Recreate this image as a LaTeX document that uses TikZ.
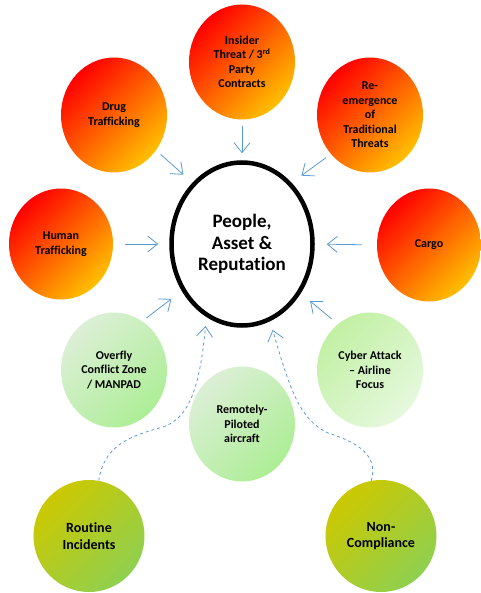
\documentclass[tikz,border=0pt]{standalone}
\usepackage{fontspec}
\setmainfont[Ligatures=NoCommon]{Carlito}
\usetikzlibrary{arrows.meta,shapes.geometric}

\definecolor{arrowblue}{HTML}{5B9BD5}
\definecolor{hotend}{HTML}{FFC000}
\definecolor{hotmid}{HTML}{FF3300}
\definecolor{palegreen}{HTML}{DCEFD6}
\definecolor{softgreen}{HTML}{ADEE96}
\definecolor{limegreen}{HTML}{C2F0A4}
\definecolor{mintgreen}{HTML}{E6F8DE}
\definecolor{olive}{HTML}{CCC800}
\definecolor{grassgreen}{HTML}{8FD050}

\begin{document}
\begin{tikzpicture}[x=1pt,y=-1pt,
  bubble/.style={ellipse,minimum width=106pt,minimum height=115pt,inner sep=0pt,
    align=center,font=\fontsize{12}{14.5}\selectfont\bfseries},
  threat/.style={bubble,top color=red,middle color=hotmid,bottom color=hotend,shading angle=45},
  watch/.style={bubble,top color=palegreen,bottom color=softgreen,shading angle=45},
  watchrev/.style={bubble,top color=limegreen,bottom color=mintgreen,shading angle=45},
  base/.style={bubble,minimum width=111pt,minimum height=112pt,
    font=\fontsize{14}{16.5}\selectfont\bfseries,top color=olive,bottom color=grassgreen,
    shading angle=45},
  hub/.style={ellipse,draw,line width=4.5pt,minimum width=141pt,minimum height=163pt,
    align=center,font=\fontsize{19}{21.5}\selectfont\bfseries},
  feed/.style={draw=arrowblue,line width=0.8pt,-{Straight Barb[length=10pt,width=16pt]}},
  weak/.style={feed,dashed}]

% page frame
\useasboundingbox (0,0) rectangle (480,593);

% centre
\node[hub] (core) at (242,244) {People,\\Asset \&\\Reputation};

% threats in red
\node[threat] (insider) at (242,62) {Insider\\Threat / 3\textsuperscript{rd}\\Party\\Contracts};
\node[threat] (drug) at (114,115) {Drug\\Trafficking};
\node[threat] (reemerge) at (370,115) {Re-\\emergence\\of\\Traditional\\Threats};
\node[threat,minimum width=104pt,minimum height=111pt] (human) at (61,244) {Human\\Trafficking};
\node[threat,minimum width=104pt,minimum height=113pt] (cargo) at (429,245) {Cargo};

% threats in green
\node[watch] (overfly) at (114,370) {Overfly\\Conflict Zone\\/ MANPAD};
\node[watchrev] (cyber) at (370,370) {Cyber Attack\\-- Airline\\Focus};
\node[watch] (rpa) at (242,424) {Remotely-\\Piloted\\aircraft};

% base causes
\node[base] (routine) at (89,536) {Routine\\Incidents};
\node[base] (noncomp) at (381,536) {Non-\\Compliance};

% solid arrows
\draw[feed,shorten <=6pt,shorten >=7pt] (insider.south) -- (core.north);
\draw[feed,shorten <=6pt,shorten >=12pt] (drug.-40) -- (core.129);
\draw[feed,shorten <=6pt,shorten >=12pt] (reemerge.-135) -- (core.51);
\draw[feed,shorten <=12pt,shorten >=11pt] (human.east) -- (core.west);
\draw[feed,shorten <=15pt,shorten >=12pt] (cargo.west) -- (core.east);
\draw[feed,shorten <=5pt,shorten >=13pt] (overfly.60) -- (core.218);
\draw[feed,shorten <=8pt,shorten >=12pt] (cyber.125) -- (core.-40);

% dashed arrows
\draw[weak,shorten >=9pt] (routine.80) .. controls (104,445) and (130,436) .. (163,427)
  .. controls (190,418) and (200,385) .. (core.244);
\draw[weak,shorten >=9pt] (noncomp.100) .. controls (380,452) and (350,440) .. (328,433)
  .. controls (300,420) and (290,390) .. (core.-70);

\end{tikzpicture}
\end{document}
